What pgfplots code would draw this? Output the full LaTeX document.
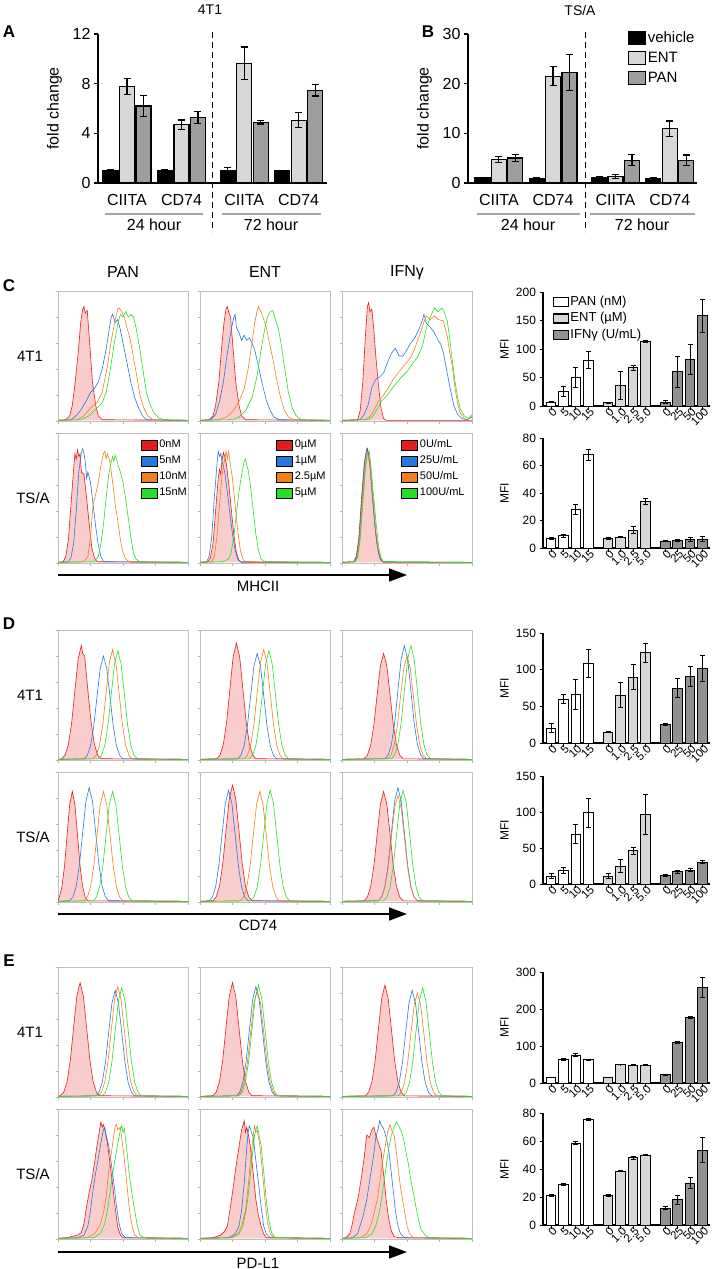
\documentclass[border=0pt]{standalone}
\usepackage{fontspec}
\setmainfont{Liberation Sans}
\usepackage{pgfplots}
\pgfplotsset{compat=1.18}
\usetikzlibrary{arrows.meta}
\definecolor{hred}{RGB}{228,28,28}
\definecolor{hblue}{RGB}{38,120,222}
\definecolor{horange}{RGB}{240,128,30}
\definecolor{hgreen}{RGB}{40,222,40}
\definecolor{hfill}{RGB}{250,205,205}
\definecolor{entg}{RGB}{215,215,215}
\definecolor{pang}{RGB}{158,158,158}
\definecolor{ifng}{RGB}{145,145,145}
\newcommand{\fz}[1]{\fontsize{#1}{#1}\selectfont}
\pgfplotsset{
 /pgf/number format/assume math mode=true,
 lbox/.style={legend image code/.code={\draw[black,line width=1.3pt,fill=#1] (0pt,-5pt) rectangle (16pt,5pt);}},
 cleg/.style={legend image code/.code={\draw[black,line width=1.1pt,fill=#1] (0pt,-4.5pt) rectangle (15pt,4.5pt);}},
 bleg/.style={legend image code/.code={\draw[black,line width=1.2pt,fill=#1] (0pt,-6.5pt) rectangle (17pt,6.5pt);}},
 hist/.style={scale only axis, width=130pt, height=130pt, anchor=south west,
  xmin=0, xmax=100, ymin=0, ymax=100,
  axis line style={draw=gray!50, line width=0.7pt},
  xtick={0,25,50,75,100}, ytick={0,20,40,60,80,100},
  xticklabels={}, yticklabels={},
  tick pos=left, tick align=outside, major tick length=2.5pt,
  tick style={draw=gray!60, line width=0.5pt},
  legend style={draw=none, fill=none, font=\fz{11}, row sep=2.5pt, nodes={inner sep=1.5pt, text height=8pt, text depth=2.5pt}},
  legend cell align=left},
 barp/.style={ybar, bar width=9.5pt, bar shift=0pt, draw=black, line width=1pt,
  error bars/.cd, y dir=both, y explicit, error bar style={line width=1pt, black},
  error mark options={rotate=90, black, line width=1pt, mark size=2.5pt}},
 abar/.style={ybar, bar width=15pt, bar shift=0pt, draw=black, line width=1.2pt,
  error bars/.cd, y dir=both, y explicit, error bar style={line width=1.2pt, black},
  error mark options={rotate=90, black, line width=1.2pt, mark size=3.5pt}},
 mfi/.style={scale only axis, width=167pt, anchor=south west,
  xmin=-0.65, xmax=12.8, ymin=0,
  axis x line*=bottom, axis y line*=left,
  axis line style={line width=1.3pt},
  xtick={0,1,2,3,4.6,5.6,6.6,7.6,9.2,10.2,11.2,12.2},
  xticklabels={0,5,10,15,0,1.0,2.5,5.0,0,25,50,100},
  xticklabel style={rotate=45, anchor=east, font=\fz{11.5}, inner sep=0.5pt, xshift=3pt, yshift=-3pt},
  yticklabel style={font=\fz{12}},
  tick align=outside, major tick length=3.5pt,
  tick style={line width=1pt, black},
  ylabel={MFI}, ylabel style={font=\fz{12}, at={(axis description cs:-0.23,0.5)}, anchor=center},
  clip=false},
 foldax/.style={scale only axis, width=229pt, height=149pt, anchor=south west, ymin=0,
  axis x line*=bottom, axis y line*=left,
  axis line style={line width=1.3pt},
  xtick={1,4.3,8.1,11.4}, xticklabels={CIITA,CD74,CIITA,CD74},
  xtick style={draw=none},
  ytick style={line width=1.2pt, black},
  tick align=outside, major tick length=4pt,
  tick label style={font=\fz{16}},
  xticklabel style={yshift=-4pt},
  ylabel={fold change}, ylabel style={font=\fz{16}, at={(axis description cs:-0.19,0.5)}, anchor=center},
  clip=false}
}
\newcommand{\hpanel}[7]{%
\begin{axis}[hist, at={(#1pt,-#2pt)}, #7]
\addplot[draw=hred, fill=hfill, line width=0.6pt, lbox=hred] coordinates {#3};
\addplot[draw=hblue, line width=0.6pt, lbox=hblue] coordinates {#4};
\addplot[draw=horange, line width=0.6pt, lbox=horange] coordinates {#5};
\addplot[draw=hgreen, line width=0.6pt, lbox=hgreen] coordinates {#6};
\end{axis}}
\newcommand{\mfichart}[7]{%
\begin{axis}[mfi, at={(543pt,-#1pt)}, height=#2pt, ymax=#3, ytick={#4}]
\addplot[fill=white, barp] coordinates {#5};
\addplot[fill=entg, barp] coordinates {#6};
\addplot[fill=ifng, barp] coordinates {#7};
\end{axis}}
\begin{document}
\begin{tikzpicture}
\path[use as bounding box] (0pt,0pt) rectangle (712pt,-1269pt);
% ---------------- A ----------------
\begin{axis}[foldax, at={(98pt,-183pt)}, xmin=-0.76, xmax=13.12, ymax=12, ytick={0,4,8,12}]
\addplot[fill=black, abar] coordinates {(0,1) +- (0,0.08) (3.3,1) +- (0,0.05) (7.1,1) +- (0,0.25) (10.4,1) +- (0,0.03)};
\addplot[fill=entg, abar] coordinates {(1,7.75) +- (0,0.65) (4.3,4.7) +- (0,0.38) (8.1,9.65) +- (0,1.3) (11.4,5.05) +- (0,0.6)};
\addplot[fill=pang, abar] coordinates {(2,6.2) +- (0,0.87) (5.3,5.27) +- (0,0.46) (9.1,4.9) +- (0,0.15) (12.4,7.47) +- (0,0.47)};
\end{axis}
% ---------------- B ----------------
\begin{axis}[foldax, at={(468pt,-183pt)}, xmin=-0.88, xmax=13.06, ymax=30, ytick={0,10,20,30},
 legend style={at={(0.683,1.044)}, anchor=north west, draw=none, fill=none, font=\fz{15}, row sep=4pt, nodes={inner sep=2pt, text height=11pt, text depth=1pt}}, legend cell align=left]
\addplot[fill=black, bleg=black, abar] coordinates {(0,1) +- (0,0.15) (3.3,0.95) +- (0,0.1) (7.1,1) +- (0,0.2) (10.4,0.9) +- (0,0.1)};
\addlegendentry{vehicle}
\addplot[fill=entg, bleg=entg, abar] coordinates {(1,4.7) +- (0,0.6) (4.3,21.5) +- (0,1.9) (8.1,1.3) +- (0,0.35) (11.4,10.9) +- (0,1.6)};
\addlegendentry{ENT}
\addplot[fill=pang, bleg=pang, abar] coordinates {(2,5.05) +- (0,0.75) (5.3,22.3) +- (0,3.6) (9.1,4.6) +- (0,1.15) (12.4,4.6) +- (0,1.05)};
\addlegendentry{PAN}
\end{axis}
% A/B annotations
\node[font=\fz{14}] at (210pt,-10pt) {4T1};
\node[font=\fz{14}] at (580pt,-10pt) {TS/A};
\node[font=\bfseries\fz{17}] at (9pt,-32pt) {A};
\node[font=\bfseries\fz{17}] at (428pt,-32pt) {B};
\draw[dash pattern=on 6pt off 4pt, line width=0.8pt] (212pt,-32pt) -- (212pt,-232pt);
\draw[dash pattern=on 6pt off 4pt, line width=0.8pt] (585pt,-32pt) -- (585pt,-232pt);
\draw[gray!70, line width=1.2pt] (105pt,-214pt) -- (203pt,-214pt);
\draw[gray!70, line width=1.2pt] (222pt,-214pt) -- (321pt,-214pt);
\draw[gray!70, line width=1.2pt] (477pt,-214pt) -- (580pt,-214pt);
\draw[gray!70, line width=1.2pt] (590pt,-214pt) -- (695pt,-214pt);
\node[font=\fz{16}] at (154pt,-225pt) {24 hour};
\node[font=\fz{16}] at (271pt,-225pt) {72 hour};
\node[font=\fz{16}] at (528pt,-225pt) {24 hour};
\node[font=\fz{16}] at (642pt,-225pt) {72 hour};
% ---------------- C histograms ----------------
\hpanel{58}{421}
{(0,0.5)(6,1)(9,4)(11,12)(13,28)(15.5,52)(17.5,76)(19,86)(20,88)(21,83)(22.5,85)(24.5,58)(26.5,30)(29,12)(31,4)(34,1)(100,0.5)}
{(0,0.5)(10,1)(14,4)(18,9)(22,16)(25,22)(28,25)(31,30)(34,40)(37,55)(39,68)(41,80)(42,82)(44,76)(46,78)(48,70)(50,60)(53,45)(56,30)(59,18)(62,10)(65,4)(68,1)(100,0.5)}
{(0,0.5)(15,1)(20,4)(25,10)(30,14)(34,22)(38,42)(41,62)(44,78)(46,86)(47,87)(49,84)(51,80)(53,72)(55,65)(57,55)(60,38)(63,20)(66,10)(69,4)(73,1)(100,0.5)}
{(0,0.5)(18,1)(24,4)(30,10)(34,14)(37,22)(40,38)(43,58)(46,75)(48,82)(50,80)(52,84)(54,80)(56,82)(58,80)(60,72)(63,55)(66,35)(68,22)(71,12)(74,6)(78,2)(82,1)(100,0.5)}{}
\hpanel{200}{421}
{(0,0.5)(7,1)(10,4)(12,12)(14.5,30)(16.5,55)(18.5,76)(20,86)(21,88)(22,84)(23.5,80)(25.5,55)(27.5,30)(30,12)(32,4)(35,1)(100,0.5)}
{(0,0.5)(8,1)(12,5)(15,15)(18,30)(21,52)(24,70)(26,80)(27,82)(28,72)(30,68)(32,62)(34,66)(36,62)(38,64)(40,60)(42,55)(45,42)(48,28)(51,16)(54,8)(57,3)(61,1)(100,0.5)}
{(0,0.5)(15,1)(20,3)(25,7)(30,15)(34,25)(37,40)(40,60)(42,75)(44,85)(45,88)(47,84)(49,78)(51,72)(53,62)(56,48)(59,32)(62,18)(65,8)(68,3)(72,1)(100,0.5)}
{(0,0.5)(25,1)(30,3)(35,8)(40,18)(44,35)(47,55)(50,72)(52,80)(54,84)(56,85)(58,78)(60,72)(62,62)(64,48)(66,35)(68,22)(71,10)(74,4)(78,1)(100,0.5)}{}
\hpanel{342}{421}
{(0,0.5)(12,1)(14,8)(16,30)(18,65)(19.5,88)(20.5,91)(21.5,84)(23,86)(24.5,70)(26,50)(28,28)(30,10)(32,2)(34,0.5)(100,0.5)}
{(0,0.5)(14,1)(17,5)(20,12)(23,26)(26,32)(29,34)(32,37)(35,45)(38,52)(41,56)(44,50)(47,50)(50,55)(53,60)(56,64)(59,70)(62,78)(63,82)(65,75)(68,72)(71,68)(74,62)(76,59)(78,52)(80,42)(83,26)(86,12)(89,5)(92,2)(96,1)(100,3)}
{(0,0.5)(18,1)(22,4)(25,9)(28,15)(32,20)(36,26)(40,33)(44,38)(48,43)(53,49)(56,56)(60,67)(63,76)(65,81)(68,78)(71,81)(74,78)(78,77)(81,65)(83,52)(85,41)(87,25)(89,13)(91,6)(94,2)(97,1)(100,4)}
{(0,0.5)(20,1)(24,4)(27,9)(30,15)(35,20)(40,27)(45,33)(50,38)(55,45)(58,49)(62,58)(65,72)(68,80)(71,87)(74,84)(77,87)(79,83)(81,77)(83,62)(85,45)(87,30)(89,18)(91,9)(94,4)(97,2)(100,5)}{}
\hpanel{58}{563}
{(0,0.5)(4,1)(6,5)(8,18)(10,45)(12,72)(13,84)(14,80)(15,87)(16,82)(17,84)(18,70)(20,68)(22,50)(24,30)(26,12)(28,4)(30,1)(100,0.5)}
{(0,0.5)(8,1)(10,4)(12,15)(14,40)(16,70)(18,85)(19,88)(20,84)(21,78)(22,65)(23,70)(25,62)(27,45)(29,28)(31,14)(33,5)(35,1)(100,0.5)}
{(0,0.5)(20,1)(23,5)(25,20)(27,45)(29,53)(31,62)(33,75)(35,84)(36,86)(37,80)(38,84)(40,78)(42,62)(44,45)(46,32)(48,18)(50,8)(52,3)(55,1)(100,0.5)}
{(0,0.5)(28,1)(31,5)(33,15)(35,30)(37,50)(39,68)(41,78)(42,82)(43,78)(44,83)(45,80)(46,76)(48,70)(50,62)(52,50)(54,35)(56,20)(58,8)(60,3)(63,1)(100,0.5)}
{legend entries={0nM,5nM,10nM,15nM}, legend style={at={(0.61,0.975)}, anchor=north west}}
\hpanel{200}{563}
{(0,0.5)(6,1)(8,4)(10,15)(12,40)(14,65)(15,72)(16,68)(17,80)(18,85)(19,82)(20,78)(22,62)(24,42)(26,22)(28,8)(30,2)(32,0.5)(100,0.5)}
{(0,0.5)(5,1)(7,5)(9,20)(11,50)(13,75)(14,86)(15,82)(16,84)(17,78)(19,70)(21,55)(23,38)(25,22)(27,10)(29,3)(31,1)(100,0.5)}
{(0,0.5)(9,1)(11,5)(13,20)(15,45)(17,68)(19,80)(20,86)(21,80)(22,86)(23,78)(25,65)(27,45)(29,25)(31,10)(33,3)(35,1)(100,0.5)}
{(0,0.5)(18,1)(22,3)(24,8)(26,20)(28,38)(30,55)(32,68)(34,78)(35,80)(36,75)(37,72)(39,58)(41,40)(43,22)(45,10)(47,3)(50,1)(100,0.5)}
{legend entries={0µM,1µM,2.5µM,5µM}, legend style={at={(0.56,0.975)}, anchor=north west}}
\hpanel{342}{563}
{(0,0.5)(9,1)(11,5)(13,20)(15,50)(17,75)(18.5,85)(19.5,88)(20.5,84)(22,70)(24,45)(26,22)(28,8)(30,2)(32,0.5)(100,0.5)}
{(0,0.5)(9.5,1)(11.5,5)(13.5,22)(15.5,52)(17.5,78)(19,88)(20,85)(21.5,75)(23,55)(25,32)(27,14)(29,4)(31,1)(100,0.5)}
{(0,0.5)(10,1)(12,5)(14,22)(16,52)(18,76)(19.5,85)(20.5,82)(22,70)(24,48)(26,25)(28,10)(30,3)(32,0.5)(100,0.5)}
{(0,0.5)(10,1)(12,4)(14,18)(16,45)(18,72)(19.5,84)(21,86)(22.5,72)(24,55)(26,33)(28,14)(30,4)(32,1)(100,0.5)}
{legend entries={0U/mL,25U/mL,50U/mL,100U/mL}, legend style={at={(0.43,0.975)}, anchor=north west}}
% ---------------- D histograms ----------------
\hpanel{58}{760}
{(0,0.5)(3,1)(5.5,3.9)(8,11.9)(10.5,28.6)(13,53.4)(15.5,77.6)(17,84)(18,88)(19,82)(20.5,80)(23,53.4)(25.5,28.6)(28,11.9)(30.5,3.9)(33,1)(100,0.5)}
{(0,0.5)(20,0.9)(22.5,3.5)(25,10.8)(27.5,26)(30,48.6)(32.5,70.6)(35,80)(36,76)(37.5,70.6)(40,48.6)(42.5,26)(45,10.8)(47.5,3.5)(50,0.9)(100,0.5)}
{(0,0.5)(27,0.9)(29.5,3.7)(32,11.5)(34.5,27.6)(37,51.6)(39.5,75)(42,85)(43,80)(44.5,75)(47,51.6)(49.5,27.6)(52,11.5)(54.5,3.7)(57,0.9)(100,0.5)}
{(0,0.5)(31,0.9)(33.5,3.7)(36,11.3)(38.5,27.3)(41,51)(43.5,74.1)(45,80)(46,84)(48.5,74.1)(51,51)(53.5,27.3)(56,11.3)(58.5,3.7)(61,0.9)(100,0.5)}{}
\hpanel{200}{760}
{(0,0.5)(13,1)(15.5,4)(18,12.2)(20.5,29.3)(23,54.6)(25.5,79.4)(28,90)(30.5,79.4)(33,54.6)(35.5,29.3)(38,12.2)(40.5,4)(43,1)(100,0.5)}
{(0,0.5)(29,0.9)(31.5,3.6)(34,11.1)(36.5,26.7)(39,49.8)(41.5,72.3)(44,82)(46.5,72.3)(49,49.8)(51.5,26.7)(54,11.1)(56.5,3.6)(59,0.9)(100,0.5)}
{(0,0.5)(34,0.9)(36.5,3.7)(39,11.5)(41.5,27.6)(44,51.6)(46.5,75)(49,85)(51.5,75)(54,51.6)(56.5,27.6)(59,11.5)(61.5,3.7)(64,0.9)(100,0.5)}
{(0,0.5)(38,0.9)(40.5,3.7)(43,11.3)(45.5,27.3)(48,51)(50.5,74.1)(53,84)(55.5,74.1)(58,51)(60.5,27.3)(63,11.3)(65.5,3.7)(68,0.9)(100,0.5)}{}
\hpanel{342}{760}
{(0,0.5)(17,0.9)(19.5,3.6)(22,11.1)(24.5,26.7)(27,49.8)(29.5,72.3)(32,82)(34.5,72.3)(37,49.8)(39.5,26.7)(42,11.1)(44.5,3.6)(47,0.9)(100,0.5)}
{(0,0.5)(33,1)(35.5,3.9)(38,11.9)(40.5,28.6)(43,53.4)(45.5,77.6)(48,88)(50.5,77.6)(53,53.4)(55.5,28.6)(58,11.9)(60.5,3.9)(63,1)(100,0.5)}
{(0,0.5)(35,0.9)(37.5,3.5)(40,10.8)(42.5,26)(45,48.6)(47.5,70.6)(50,80)(52.5,70.6)(55,48.6)(57.5,26)(60,10.8)(62.5,3.5)(65,0.9)(100,0.5)}
{(0,0.5)(38,1)(40.5,3.9)(43,11.9)(45.5,28.6)(48,53.4)(50.5,77.6)(53,88)(55.5,77.6)(58,53.4)(60.5,28.6)(63,11.9)(65.5,3.9)(68,1)(100,0.5)}{}
\hpanel{58}{902}
{(0,0.5)(1,3.7)(3,11.5)(5,27.6)(7,51.6)(9,75)(11,85)(13,75)(15,51.6)(17,27.6)(19,11.5)(21,3.7)(23,0.9)(100,0.5)}
{(0,0.5)(9,1)(11.5,3.9)(14,11.9)(16.5,28.6)(19,53.4)(21.5,77.6)(24,88)(26.5,77.6)(29,53.4)(31.5,28.6)(34,11.9)(36.5,3.9)(39,1)(100,0.5)}
{(0,0.5)(20,0.9)(22.5,3.7)(25,11.5)(27.5,27.6)(30,51.6)(32.5,75)(35,85)(37.5,75)(40,51.6)(42.5,27.6)(45,11.5)(47.5,3.7)(50,0.9)(100,0.5)}
{(0,0.5)(27,0.9)(29.5,3.7)(32,11.5)(34.5,27.6)(37,51.6)(39.5,75)(42,85)(44.5,75)(47,51.6)(49.5,27.6)(52,11.5)(54.5,3.7)(57,0.9)(100,0.5)}{}
\hpanel{200}{902}
{(0,0.5)(10,1)(12.5,4)(15,12.2)(17.5,29.3)(20,54.6)(22.5,79.4)(25,90)(27.5,79.4)(30,54.6)(32.5,29.3)(35,12.2)(37.5,4)(40,1)(100,0.5)}
{(0,0.5)(7,0.9)(9.5,3.8)(12,11.6)(14.5,28)(17,52.2)(19.5,75.9)(22,86)(24.5,75.9)(27,52.2)(29.5,28)(32,11.6)(34.5,3.8)(37,0.9)(100,0.5)}
{(0,0.5)(31,0.9)(33.5,3.7)(36,11.5)(38.5,27.6)(41,51.6)(43.5,75)(46,85)(48.5,75)(51,51.6)(53.5,27.6)(56,11.5)(58.5,3.7)(61,0.9)(100,0.5)}
{(0,0.5)(39,0.9)(41.5,3.8)(44,11.6)(46.5,28)(49,52.2)(51.5,75.9)(54,86)(56.5,75.9)(59,52.2)(61.5,28)(64,11.6)(66.5,3.8)(69,0.9)(100,0.5)}{}
\hpanel{342}{902}
{(0,0.5)(17,0.9)(19.5,3.7)(22,11.5)(24.5,27.6)(27,51.6)(29.5,75)(32,85)(34.5,75)(37,51.6)(39.5,27.6)(42,11.5)(44.5,3.7)(47,0.9)(100,0.5)}
{(0,0.5)(28,1)(30.5,3.9)(33,11.9)(35.5,28.6)(38,53.4)(40.5,77.6)(43,88)(45.5,77.6)(48,53.4)(50.5,28.6)(53,11.9)(55.5,3.9)(58,1)(100,0.5)}
{(0,0.5)(28,0.9)(30.5,3.6)(33,11.1)(35.5,26.7)(38,49.8)(40.5,72.3)(43,82)(45.5,72.3)(48,49.8)(50.5,26.7)(53,11.1)(55.5,3.6)(58,0.9)(100,0.5)}
{(0,0.5)(32,0.9)(34.5,3.8)(37,11.6)(39.5,28)(42,52.2)(44.5,75.9)(47,86)(49.5,75.9)(52,52.2)(54.5,28)(57,11.6)(59.5,3.8)(62,0.9)(100,0.5)}{}
% ---------------- E histograms ----------------
\hpanel{58}{1097}
{(0,0.5)(2,1)(4.5,3.9)(7,11.9)(9.5,28.6)(12,53.4)(14.5,77.6)(17,88)(19.5,77.6)(22,53.4)(24.5,28.6)(27,11.9)(29.5,3.9)(32,1)(100,0.5)}
{(0,0.5)(29,0.9)(31.5,3.6)(34,11.1)(36.5,26.7)(39,49.8)(41.5,72.3)(44,82)(46.5,72.3)(49,49.8)(51.5,26.7)(54,11.1)(56.5,3.6)(59,0.9)(100,0.5)}
{(0,0.5)(31,0.9)(33.5,3.7)(36,11.5)(38.5,27.6)(41,51.6)(43.5,75)(46,85)(48.5,75)(51,51.6)(53.5,27.6)(56,11.5)(58.5,3.7)(61,0.9)(100,0.5)}
{(0,0.5)(34,0.9)(36.5,3.7)(39,11.3)(41.5,27.3)(44,51)(46.5,74.1)(49,84)(51.5,74.1)(54,51)(56.5,27.3)(59,11.3)(61.5,3.7)(64,0.9)(100,0.5)}{}
\hpanel{200}{1097}
{(0,0.5)(10,1)(12.5,3.9)(15,11.9)(17.5,28.6)(20,53.4)(22.5,77.6)(25,88)(27.5,77.6)(30,53.4)(32.5,28.6)(35,11.9)(37.5,3.9)(40,1)(100,0.5)}
{(0,0.5)(28,0.9)(30.5,3.7)(33,11.5)(35.5,27.6)(38,51.6)(40.5,75)(43,85)(45.5,75)(48,51.6)(50.5,27.6)(53,11.5)(55.5,3.7)(58,0.9)(100,0.5)}
{(0,0.5)(29,0.9)(31.5,3.6)(34,11.1)(36.5,26.7)(39,49.8)(41.5,72.3)(44,82)(46.5,72.3)(49,49.8)(51.5,26.7)(54,11.1)(56.5,3.6)(59,0.9)(100,0.5)}
{(0,0.5)(30,0.9)(32.5,3.8)(35,11.6)(37.5,28)(40,52.2)(42.5,75.9)(45,86)(47.5,75.9)(50,52.2)(52.5,28)(55,11.6)(57.5,3.8)(60,0.9)(100,0.5)}{}
\hpanel{342}{1097}
{(0,0.5)(18,0.9)(20.5,3.8)(23,11.6)(25.5,28)(28,52.2)(30.5,75.9)(33,86)(35.5,75.9)(38,52.2)(40.5,28)(43,11.6)(45.5,3.8)(48,0.9)(100,0.5)}
{(0,0.5)(39,0.9)(41.5,3.6)(44,11.1)(46.5,26.7)(49,49.8)(51.5,72.3)(54,82)(56.5,72.3)(59,49.8)(61.5,26.7)(64,11.1)(66.5,3.6)(69,0.9)(100,0.5)}
{(0,0.5)(43,0.9)(45.5,3.5)(48,10.8)(50.5,26)(53,48.6)(55.5,70.6)(58,80)(60.5,70.6)(63,48.6)(65.5,26)(68,10.8)(70.5,3.5)(73,0.9)(100,0.5)}
{(0,0.5)(47,0.9)(49.5,3.7)(52,11.3)(54.5,27.3)(57,51)(59.5,74.1)(62,84)(64.5,74.1)(67,51)(69.5,27.3)(72,11.3)(74.5,3.7)(77,0.9)(100,0.5)}{}
\hpanel{58}{1239}
{(0,0.5)(7,1)(11,2)(15,3)(18,5)(20,12)(22,25)(24,36)(26,45)(28,58)(30,72)(32,84)(33,90)(34,86)(35,88)(36,84)(38,74)(40,58)(42,42)(44,24)(46,9)(48,3)(50,1)(100,0.5)}
{(0,0.5)(15,1)(20,3)(23,10)(25,22)(27,38)(29,51)(31,62)(33,74)(35,84)(36,86)(37,80)(39,72)(41,58)(43,43)(45,25)(47,12)(49,4)(52,1)(100,0.5)}
{(0,0.5)(22,1)(28,4)(32,10)(35,20)(37,32)(39,52)(41,66)(43,80)(44,87)(45,88)(46,84)(48,86)(49,78)(51,62)(53,42)(55,22)(57,10)(59,3)(62,1)(100,0.5)}
{(0,0.5)(28,1)(33,5)(36,12)(38,22)(40,36)(42,50)(44,62)(46,74)(48,84)(49,87)(50,82)(51,85)(53,68)(55,48)(57,34)(59,22)(61,10)(63,3)(66,1)(100,0.5)}{}
\hpanel{200}{1239}
{(0,0.5)(10,1)(16,3)(19,6)(21,10)(23,22)(26,43)(28,58)(30,71)(32,84)(34,91)(35,82)(36,86)(38,76)(39,69)(41,50)(43,30)(45,18)(47,10)(49,4)(51,1)(100,0.5)}
{(0,0.5)(22,1)(27,4)(30,10)(32,22)(34,43)(36,70)(37,82)(38,87)(39,84)(41,78)(43,60)(45,43)(47,25)(49,10)(51,4)(54,1)(100,0.5)}
{(0,0.5)(24,1)(29,4)(32,10)(35,22)(37,40)(39,62)(41,80)(42,87)(43,82)(44,84)(46,72)(48,52)(50,30)(52,12)(54,4)(57,1)(100,0.5)}
{(0,0.5)(25,1)(30,4)(33,10)(36,25)(38,42)(40,62)(42,80)(43,84)(44,87)(45,82)(47,72)(49,52)(51,30)(53,14)(55,5)(58,1)(100,0.5)}{}
\hpanel{342}{1239}
{(0,0.5)(3,1)(6,4)(8,12)(10,22)(12,30)(13,35)(15,48)(17,62)(19,80)(21,78)(23,84)(24.5,86)(26,80)(28,74)(30,68)(32,50)(34,30)(36,15)(38,6)(40,2)(43,1)(100,0.5)}
{(0,0.5)(8,1)(12,4)(16,17)(19,30)(21,43)(24,62)(26,78)(28,86)(29,91)(30,88)(32,85)(34,78)(36,68)(38,50)(40,32)(41,22)(43,10)(45,4)(48,1)(100,0.5)}
{(0,0.5)(14,1)(19,4)(22,10)(24,17)(27,30)(29,43)(31,58)(33,70)(35,82)(37,88)(38,84)(40,80)(42,66)(43,56)(45,40)(48,22)(50,10)(52,4)(55,1)(100,0.5)}
{(0,0.5)(18,1)(23,4)(26,10)(29,22)(31,35)(34,56)(36,70)(38,80)(40,86)(42,90)(44,86)(46,82)(48,74)(49,68)(51,58)(53,45)(55,35)(57,24)(59,14)(61,7)(64,3)(67,1)(100,0.5)}{}
% ---------------- MFI bar charts ----------------
\begin{axis}[mfi, at={(543pt,-406pt)}, height=114pt, ymax=200, ytick={0,50,100,150,200},
 legend style={at={(0.04,1.0)}, anchor=north west, draw=none, fill=none, font=\fz{13}, row sep=1pt, nodes={inner sep=1.5pt, text height=9.5pt, text depth=3pt}}, legend cell align=left]
\addplot[fill=white, cleg=white, barp] coordinates {(0,7) +- (0,1) (1,26) +- (0,9) (2,50) +- (0,18) (3,80) +- (0,15)};
\addlegendentry{PAN (nM)}
\addplot[fill=entg, cleg=entg, barp] coordinates {(4.6,6) +- (0,1) (5.6,36) +- (0,24) (6.6,67) +- (0,4) (7.6,113) +- (0,2)};
\addlegendentry{ENT (µM)}
\addplot[fill=ifng, cleg=ifng, barp] coordinates {(9.2,7) +- (0,2) (10.2,60) +- (0,27) (11.2,82) +- (0,26) (12.2,158) +- (0,29)};
\addlegendentry{IFNγ (U/mL)}
\end{axis}
\mfichart{548}{110}{80}{0,20,40,60,80}
{(0,7) +- (0,0.5) (1,9) +- (0,1) (2,28) +- (0,3.5) (3,68) +- (0,4)}
{(4.6,7) +- (0,0.5) (5.6,8) +- (0,0.7) (6.6,13) +- (0,2.5) (7.6,34) +- (0,2)}
{(9.2,5) +- (0,0.5) (10.2,5.5) +- (0,1) (11.2,6) +- (0,1.5) (12.2,6.5) +- (0,2)}
\mfichart{743}{110}{150}{0,50,100,150}
{(0,20) +- (0,6) (1,60) +- (0,6) (2,66) +- (0,20) (3,109) +- (0,19)}
{(4.6,15) +- (0,1) (5.6,65) +- (0,17) (6.6,90) +- (0,17) (7.6,123) +- (0,13)}
{(9.2,25) +- (0,1) (10.2,75) +- (0,13) (11.2,91) +- (0,14) (12.2,102) +- (0,18)}
\mfichart{884}{108}{150}{0,50,100,150}
{(0,11) +- (0,4) (1,19) +- (0,4) (2,69) +- (0,13) (3,99) +- (0,20)}
{(4.6,11) +- (0,4) (5.6,25) +- (0,9) (6.6,46) +- (0,5) (7.6,97) +- (0,28)}
{(9.2,12) +- (0,1) (10.2,17) +- (0,2) (11.2,19) +- (0,2) (12.2,30) +- (0,2)}
\mfichart{1083}{111}{300}{0,100,200,300}
{(0,15) +- (0,1) (1,63) +- (0,2) (2,75) +- (0,4) (3,63) +- (0,1)}
{(4.6,15) +- (0,1) (5.6,50) +- (0,1) (6.6,48) +- (0,1) (7.6,48) +- (0,1)}
{(9.2,22) +- (0,2) (10.2,109) +- (0,3) (11.2,177) +- (0,2) (12.2,258) +- (0,27)}
\mfichart{1225}{112}{80}{0,20,40,60,80}
{(0,21) +- (0,0.5) (1,29) +- (0,0.5) (2,58.5) +- (0,1) (3,75.5) +- (0,0.5)}
{(4.6,21) +- (0,0.5) (5.6,38.5) +- (0,0.6) (6.6,48) +- (0,1) (7.6,50) +- (0,0.5)}
{(9.2,12) +- (0,1) (10.2,18) +- (0,3) (11.2,30) +- (0,4) (12.2,53.5) +- (0,9)}
% ---------------- labels ----------------
\node[font=\bfseries\fz{17}] at (9pt,-286pt) {C};
\node[font=\bfseries\fz{17}] at (9pt,-624pt) {D};
\node[font=\bfseries\fz{17}] at (9pt,-961pt) {E};
\node[font=\fz{16}] at (123pt,-272pt) {PAN};
\node[font=\fz{16}] at (265pt,-272pt) {ENT};
\node[font=\fz{16}] at (407pt,-273pt) {IFNγ};
\foreach \yy in {356,695,1032} {\node[font=\fz{15}] at (30pt,-\yy pt) {4T1};}
\foreach \yy in {498,837,1174} {\node[font=\fz{15}] at (33pt,-\yy pt) {TS/A};}
\foreach \yy/\lab in {575/MHCII,914/CD74,1252/PD-L1} {
 \draw[line width=1.5pt, -{Triangle[length=18pt,width=13pt]}] (58pt,-\yy pt) -- (407pt,-\yy pt);
 \node[font=\fz{15}, inner sep=0pt] at (258pt,-\yy pt-11pt) {\lab};
}
\end{tikzpicture}
\end{document}
